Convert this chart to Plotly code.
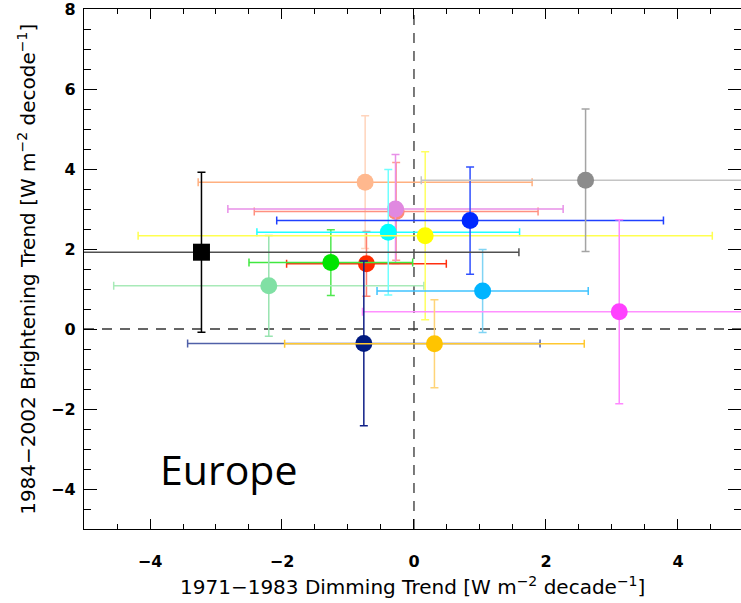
import plotly.graph_objects as go

# Regional trend estimates (W m^-2 per decade) with 1-sigma uncertainties
dimming = [-0.74, -0.27, -0.28, -0.72, -1.26, -2.20, -0.39, 0.17, 0.85, 2.60, 1.04, 3.11, -0.76, 0.31, -3.22]
brightening = [3.67, 2.94, 3.00, 1.63, 1.66, 1.08, 2.42, 2.33, 2.71, 3.72, 0.95, 0.43, -0.36, -0.37, 1.92]
dimming_err = [2.53, 2.15, 2.54, 1.21, 1.24, 2.35, 1.99, 4.35, 2.93, 2.49, 1.60, 3.89, 2.67, 2.27, 4.81]
brightening_err = [1.66, 1.22, 1.36, 0.81, 0.82, 1.26, 1.57, 2.10, 1.34, 1.78, 1.04, 2.30, 2.06, 1.10, 2.00]

x_ticks = [-4, -2, 0, 2, 4]
y_ticks = [-4, -2, 0, 2, 4, 6, 8]
region_label = "Europe"
x_title = "1971\u22121983 Dimming Trend [W m<sup>\u22122</sup> decade<sup>\u22121</sup>]"
y_title = "1984\u22122002 Brightening Trend [W m<sup>\u22122</sup> decode<sup>\u22121</sup>]"

# marker colour, horizontal bar colour, vertical bar colour
marker_colors = ["#FFB88E", "#FF8A78", "#E088E0", "#FF2A00", "#00E400", "#80E0A4", "#00FFFF",
                 "#FFFF00", "#0028FF", "#8C8C8C", "#00B4FF", "#FF40FF", "#001A80", "#FFC400", "#000000"]
xerr_colors = ["#FFB080", "#FF9080", "#E890E8", "#FF3010", "#40E840", "#A8EAB8", "#20FFFF",
               "#FFFF50", "#2040FF", "#C4C4C4", "#40C4FF", "#FF90FF", "#5060A8", "#FFC830", "#505050"]
yerr_colors = ["#FFD4BC", "#FF9C90", "#E890E8", "#FF8070", "#50E850", "#98E4B0", "#70FFFF",
               "#FFFF60", "#3050FF", "#A4A4A4", "#80D4F4", "#FF88FF", "#102088", "#FFD478", "#000000"]
symbols = ["circle"] * 14 + ["square"]

fig = go.Figure()
for i in range(len(dimming)):
    fig.add_trace(go.Scatter(
        x=[dimming[i]], y=[brightening[i]], mode="markers",
        marker=dict(symbol=symbols[i], size=17, color=marker_colors[i], line=dict(width=0)),
        error_x=dict(type="data", array=[dimming_err[i]], color=xerr_colors[i], thickness=1.5, width=4),
        error_y=dict(type="data", array=[brightening_err[i]], color=yerr_colors[i], thickness=1.5, width=4),
        showlegend=False, hoverinfo="skip",
    ))

dash_style = dict(color="#333333", width=1.3, dash="10px,8px")
fig.add_shape(type="line", xref="x", yref="paper", x0=0, x1=0, y0=0, y1=1, line=dash_style, layer="below")
fig.add_shape(type="line", xref="paper", yref="y", x0=0, x1=1, y0=0, y1=0, line=dash_style, layer="below")

tick_font = dict(family="DejaVu Sans", size=16, color="black", weight="bold")
fig.update_xaxes(
    range=[-5, 4.955], tickmode="array", tickvals=x_ticks, ticks="inside", ticklen=10,
    tickwidth=1.2, tickcolor="black", showline=True, linecolor="black", linewidth=1.3,
    mirror="ticks", showgrid=False, zeroline=False, tickfont=tick_font, ticklabelstandoff=18,
    minor=dict(dtick=0.5, tick0=0, ticks="inside", ticklen=5, tickwidth=1.2, tickcolor="black", showgrid=False),
)
fig.update_yaxes(
    range=[-5, 8], tickmode="array", tickvals=y_ticks, ticks="inside", ticklen=13,
    tickwidth=1.2, tickcolor="black", showline=True, linecolor="black", linewidth=1.3,
    mirror="ticks", showgrid=False, zeroline=False, tickfont=tick_font, ticklabelstandoff=4,
    ticklabeloverflow="allow",
    minor=dict(dtick=0.5, tick0=0, ticks="inside", ticklen=7, tickwidth=1.2, tickcolor="black", showgrid=False),
)

title_font = dict(family="DejaVu Sans", size=20, color="black")
fig.add_annotation(text=x_title, xref="paper", yref="paper", x=0.5, y=-0.11,
                   xanchor="center", yanchor="middle", showarrow=False, font=title_font)
fig.add_annotation(text=y_title, xref="paper", yref="paper", x=-0.087, y=0.5, textangle=-90,
                   xanchor="center", yanchor="middle", showarrow=False, font=title_font)
fig.add_annotation(text=region_label, xref="x", yref="y", x=-3.88, y=-3.5,
                   xanchor="left", yanchor="middle", showarrow=False,
                   font=dict(family="Open Sans", size=41, color="black"))

fig.update_layout(
    width=741, height=603, margin=dict(l=84, r=0, t=9, b=74),
    plot_bgcolor="white", paper_bgcolor="white", showlegend=False,
)

fig.write_html("out.html")
